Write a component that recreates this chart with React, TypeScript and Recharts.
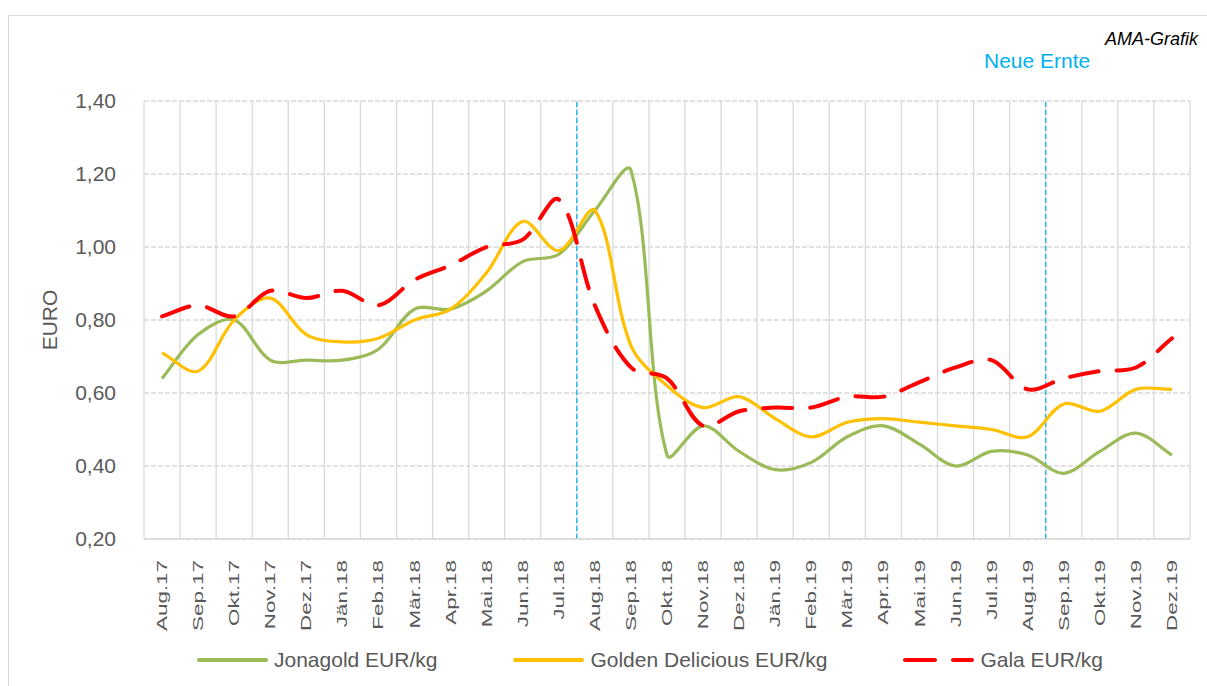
import {
  CartesianGrid,
  Legend,
  Line,
  LineChart,
  ReferenceLine,
  XAxis,
  YAxis,
} from "recharts";

const months = [
  "Aug.17", "Sep.17", "Okt.17", "Nov.17", "Dez.17", "Jän.18", "Feb.18", "Mär.18",
  "Apr.18", "Mai.18", "Jun.18", "Jul.18", "Aug.18", "Sep.18", "Okt.18", "Nov.18",
  "Dez.18", "Jän.19", "Feb.19", "Mär.19", "Apr.19", "Mai.19", "Jun.19", "Jul.19",
  "Aug.19", "Sep.19", "Okt.19", "Nov.19", "Dez.19",
];

const jonagold = [
  0.64, 0.76, 0.8, 0.69, 0.69, 0.69, 0.72, 0.83, 0.83, 0.88, 0.96, 0.98, 1.1, 1.21,
  0.43, 0.51, 0.44, 0.39, 0.41, 0.48, 0.51, 0.46, 0.4, 0.44, 0.43, 0.38, 0.44, 0.49, 0.43,
];
const golden = [
  0.71, 0.66, 0.8, 0.86, 0.76, 0.74, 0.75, 0.8, 0.83, 0.93, 1.07, 0.99, 1.1, 0.73,
  0.62, 0.56, 0.59, 0.53, 0.48, 0.52, 0.53, 0.52, 0.51, 0.5, 0.48, 0.57, 0.55, 0.61, 0.61,
];
const gala = [
  0.81, 0.84, 0.81, 0.88, 0.86, 0.88, 0.84, 0.91, 0.95, 1.0, 1.02, 1.13, 0.84, 0.67,
  0.64, 0.51, 0.55, 0.56, 0.56, 0.59, 0.59, 0.63, 0.67, 0.69, 0.61, 0.64, 0.66, 0.67, 0.75,
];

const seriesOrder = ["jonagold", "golden", "gala"];
const yTicks = [0.2, 0.4, 0.6, 0.8, 1.0, 1.2, 1.4];
// "Neue Ernte" markers sit between Jul/Aug and Aug/Sep
const harvestMarks = [11.5, 24.5];

const FONT = "'Liberation Sans', Arial, sans-serif";
const GREY_TEXT = "#595959";
const GRID = "#D9D9D9";

const data = months.map((m, i) => ({
  idx: i,
  month: m,
  jonagold: jonagold[i],
  golden: golden[i],
  gala: gala[i],
}));

// vertical gridlines go between the categories, like excel does
const bounds = Array.from({ length: months.length + 1 }, (_, i) => i - 0.5);

// excel-ish smoothing: bezier with tangents weighted by segment length
const excelCurve = (ctx: any) => {
  let pts: number[][] = [];
  const dist = (a: number[], b: number[]) => Math.hypot(b[0] - a[0], b[1] - a[1]);
  return {
    areaStart() {},
    areaEnd() {},
    lineStart() {
      pts = [];
    },
    point(x: number, y: number) {
      pts.push([+x, +y]);
    },
    lineEnd() {
      const n = pts.length;
      if (!n) return;
      ctx.moveTo(pts[0][0], pts[0][1]);
      for (let i = 0; i < n - 1; i++) {
        const p0 = pts[Math.max(i - 1, 0)];
        const p1 = pts[i];
        const p2 = pts[i + 1];
        const p3 = pts[Math.min(i + 2, n - 1)];
        const d01 = dist(p0, p1);
        const d12 = dist(p1, p2);
        const d23 = dist(p2, p3);
        const f1 = d01 + d12 > 0 ? d12 / (d01 + d12) / 3 : 0;
        const f2 = d12 + d23 > 0 ? d12 / (d12 + d23) / 3 : 0;
        ctx.bezierCurveTo(
          p1[0] + (p2[0] - p0[0]) * f1,
          p1[1] + (p2[1] - p0[1]) * f1,
          p2[0] - (p3[0] - p1[0]) * f2,
          p2[1] - (p3[1] - p1[1]) * f2,
          p2[0],
          p2[1]
        );
      }
    },
  };
};

const MonthTick = ({ x, y, payload }: any) => (
  <text
    transform={`translate(${x},${y + 19}) rotate(-90) scale(1.6,1)`}
    textAnchor="end"
    dy="0.36em"
    fontSize={14}
    fontFamily={FONT}
    fill={GREY_TEXT}
  >
    {months[payload.value]}
  </text>
);

const EuroLabel = ({ viewBox }: any) => {
  const cx = 49;
  const cy = viewBox.y + viewBox.height / 2;
  return (
    <text
      x={cx}
      y={cy}
      transform={`rotate(-90, ${cx}, ${cy})`}
      textAnchor="middle"
      dominantBaseline="central"
      fontSize={21}
      fontFamily={FONT}
      fill={GREY_TEXT}
    >
      EURO
    </text>
  );
};

const renderLegend = ({ payload }: any) => {
  const items = [...(payload || [])].sort(
    (a: any, b: any) => seriesOrder.indexOf(a.dataKey) - seriesOrder.indexOf(b.dataKey)
  );
  return (
    <div style={{ display: "flex", alignItems: "center", height: 40, paddingLeft: 197 }}>
      {items.map((e: any) => (
        <div key={e.value} style={{ display: "flex", alignItems: "center", marginRight: 76 }}>
          <svg width={71} height={10}>
            <line
              x1={2}
              y1={5}
              x2={69}
              y2={5}
              stroke={e.color}
              strokeWidth={4}
              strokeLinecap="round"
              strokeDasharray={e.dataKey === "gala" ? "30 18" : undefined}
            />
          </svg>
          <span style={{ marginLeft: 6, fontSize: 21, color: GREY_TEXT, fontFamily: FONT }}>
            {e.value}
          </span>
        </div>
      ))}
    </div>
  );
};

export default function App() {
  return (
    <div
      style={{
        position: "absolute",
        left: 0,
        top: 0,
        width: 1207,
        height: 686,
        overflow: "hidden",
        background: "#fff",
      }}
    >
      <div
        style={{
          position: "absolute",
          left: 8,
          top: 15,
          width: 1300,
          height: 800,
          border: `1.5px solid ${GRID}`,
        }}
      />
      <LineChart
        width={1207}
        height={686}
        data={data}
        margin={{ top: 101, right: 17, left: 0, bottom: 0 }}
        style={{ position: "absolute", left: 0, top: 0 }}
      >
        <CartesianGrid
          vertical={false}
          stroke={GRID}
          strokeWidth={1.3}
          strokeDasharray="5 2"
        />
        {bounds.map((b) => (
          <ReferenceLine key={`b${b}`} x={b} stroke={GRID} strokeWidth={1.3} />
        ))}
        <XAxis
          dataKey="idx"
          type="number"
          domain={[-0.5, months.length - 0.5]}
          allowDataOverflow
          ticks={data.map((d) => d.idx)}
          interval={0}
          tick={<MonthTick />}
          tickLine={false}
          tickSize={0}
          axisLine={{ stroke: GRID, strokeWidth: 1.5 }}
          height={107}
        />
        <YAxis
          domain={[0.2, 1.4]}
          ticks={yTicks}
          allowDataOverflow
          tickFormatter={(v: number) => v.toFixed(2).replace(".", ",")}
          axisLine={false}
          tickLine={false}
          tickSize={0}
          tickMargin={28}
          width={144}
          tick={{ fontSize: 21, fill: GREY_TEXT, fontFamily: FONT }}
          label={<EuroLabel />}
        />
        {harvestMarks.map((x) => (
          <ReferenceLine
            key={x}
            x={x}
            stroke="#00B0F0"
            strokeWidth={1.2}
            strokeDasharray="5 3"
          />
        ))}
        <Line
          name="Jonagold EUR/kg"
          dataKey="jonagold"
          type={excelCurve as any}
          stroke="#9BBB59"
          strokeWidth={3.2}
          dot={false}
          activeDot={false}
          isAnimationActive={false}
        />
        <Line
          name="Golden Delicious EUR/kg"
          dataKey="golden"
          type={excelCurve as any}
          stroke="#FFC000"
          strokeWidth={3.2}
          dot={false}
          activeDot={false}
          isAnimationActive={false}
        />
        <Line
          name="Gala EUR/kg"
          dataKey="gala"
          type={excelCurve as any}
          stroke="#FF0000"
          strokeWidth={4}
          strokeDasharray="29 18"
          strokeLinecap="round"
          dot={false}
          activeDot={false}
          isAnimationActive={false}
        />
        <Legend
          verticalAlign="bottom"
          content={renderLegend}
          wrapperStyle={{ left: 0, top: 640, width: 1207, height: 40 }}
        />
      </LineChart>
      <svg
        width={1207}
        height={686}
        style={{ position: "absolute", left: 0, top: 0, pointerEvents: "none" }}
      >
        <text
          x={1198}
          y={45}
          textAnchor="end"
          fontSize={18}
          fontStyle="italic"
          fontFamily={FONT}
          fill="#000"
        >
          AMA-Grafik
        </text>
        <text x={984} y={68} fontSize={21} fontFamily={FONT} fill="#00B0F0">
          Neue Ernte
        </text>
      </svg>
    </div>
  );
}
